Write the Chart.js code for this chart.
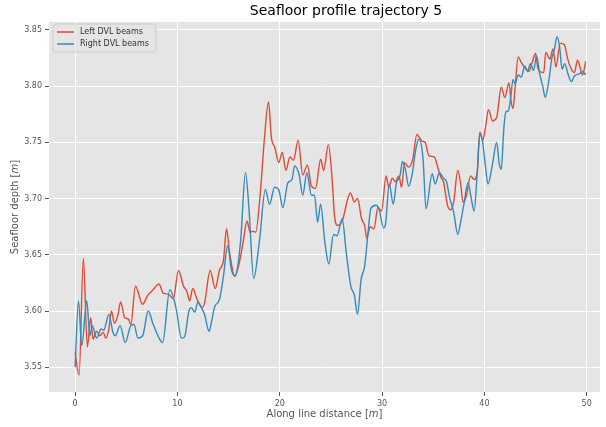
<!DOCTYPE html>
<html>
<head>
<meta charset="utf-8">
<script src="https://cdn.jsdelivr.net/npm/chart.js@4"></script>
<style>
  html, body { margin: 0; padding: 0; background: #fff; }
  #wrap { width: 606px; height: 427px; }
</style>
</head>
<body>
<div id="wrap"><canvas id="profileChart" width="606" height="427"></canvas></div>
<script>
// Left DVL beams (distance [m], depth [m])
const distLeft = [0, 0.39, 0.81, 1.2, 1.53, 1.75, 2.1, 2.4, 2.75, 3.0, 3.3, 3.55, 3.85, 4.2, 4.45, 4.85, 5.2, 5.45, 5.9, 6.6,
  7.1, 7.63, 8.2, 8.6, 9.1, 9.6, 10.1, 10.6, 10.9, 11.2, 11.5, 11.9, 12.4, 12.65, 13.2, 13.7, 14.1, 14.5, 14.8, 15.1,
  15.6, 16.1, 16.45, 16.8, 17.1, 17.4, 17.65, 18.1, 18.5, 18.9, 19.2, 19.5, 19.9, 20.25, 20.6, 21.0, 21.35, 21.8, 22.25, 22.7,
  23.1, 23.5, 24.0, 24.3, 24.75, 25.1, 25.35, 25.65, 26.1, 26.9, 27.3, 27.6, 28.0, 28.3, 28.5, 28.85, 29.2, 29.6, 29.95, 30.4,
  30.65, 31.0, 31.3, 31.65, 31.9, 32.2, 32.6, 33.0, 33.4, 33.9, 34.2, 34.6, 35.1, 35.5, 35.8, 36.0, 36.4, 36.7, 37.0, 37.4,
  37.7, 37.9, 38.2, 38.66, 39.0, 39.3, 39.55, 39.86, 40.1, 40.4, 40.8, 41.2, 41.65, 42.0, 42.4, 42.6, 42.8, 43.0, 43.3, 43.6,
  44.05, 44.35, 44.7, 45.0, 45.25, 45.8, 46.0, 46.4, 46.7, 47.0, 47.4, 47.8, 48.15, 48.5, 48.8, 49.1, 49.4, 49.6, 49.9];
const depthLeft = [3.563, 3.543, 3.647, 3.568, 3.594, 3.575, 3.582, 3.578, 3.581, 3.576, 3.584, 3.600, 3.589, 3.597, 3.608, 3.594, 3.593, 3.588, 3.622, 3.606,
  3.614, 3.619, 3.624, 3.616, 3.615, 3.611, 3.636, 3.622, 3.618, 3.609, 3.620, 3.611, 3.603, 3.607, 3.636, 3.620, 3.636, 3.645, 3.673, 3.652,
  3.631, 3.645, 3.663, 3.680, 3.670, 3.671, 3.670, 3.705, 3.753, 3.786, 3.753, 3.746, 3.732, 3.741, 3.725, 3.737, 3.734, 3.752, 3.721, 3.730,
  3.711, 3.709, 3.735, 3.725, 3.748, 3.720, 3.685, 3.676, 3.680, 3.705, 3.697, 3.700, 3.682, 3.676, 3.665, 3.675, 3.673, 3.692, 3.689, 3.720,
  3.710, 3.718, 3.715, 3.720, 3.710, 3.732, 3.728, 3.735, 3.757, 3.751, 3.750, 3.738, 3.737, 3.726, 3.718, 3.715, 3.694, 3.690, 3.697, 3.725,
  3.712, 3.697, 3.701, 3.720, 3.717, 3.723, 3.759, 3.752, 3.763, 3.779, 3.769, 3.772, 3.799, 3.790, 3.803, 3.787, 3.780, 3.798, 3.826, 3.821,
  3.815, 3.813, 3.822, 3.829, 3.815, 3.812, 3.830, 3.824, 3.833, 3.817, 3.838, 3.837, 3.824, 3.815, 3.812, 3.823, 3.815, 3.810, 3.822];

// Right DVL beams
const distRight = [0, 0.33, 0.65, 1.14, 1.45, 1.68, 2.1, 2.55, 2.8, 3.3, 3.7, 3.93, 4.4, 4.9, 5.45, 5.75, 6.15, 6.6, 7.15, 7.6,
  8.1, 8.55, 9.26, 9.7, 9.9, 10.4, 10.7, 11.1, 11.35, 11.7, 12.0, 12.4, 12.65, 13.1, 13.3, 13.65, 14.1, 14.5, 14.9, 15.3,
  15.65, 15.9, 16.2, 16.65, 17.0, 17.45, 18.0, 18.6, 19.0, 19.5, 19.9, 20.3, 20.8, 21.2, 21.45, 21.9, 22.25, 22.65, 23.1, 23.4,
  23.7, 24.0, 24.4, 24.8, 25.25, 25.6, 26.1, 26.5, 26.95, 27.3, 27.6, 27.95, 28.3, 28.6, 28.9, 29.4, 29.7, 30.15, 30.35, 30.7,
  31.1, 31.4, 31.75, 32.0, 32.3, 32.6, 32.95, 33.3, 33.6, 34.0, 34.3, 34.9, 35.2, 35.6, 36.0, 36.3, 36.6, 37.0, 37.4, 37.7,
  38.0, 38.4, 38.7, 39.0, 39.3, 39.55, 39.8, 40.1, 40.35, 40.8, 41.2, 41.45, 41.65, 41.9, 42.1, 42.35, 42.6, 42.8, 43.0, 43.3,
  43.6, 43.95, 44.2, 44.5, 44.8, 45.1, 45.4, 45.7, 45.95, 46.3, 46.6, 46.85, 47.1, 47.35, 47.6, 47.85, 48.2, 48.5, 48.8, 49.3,
  49.6, 49.9];
const depthRight = [3.550, 3.609, 3.569, 3.609, 3.578, 3.587, 3.576, 3.584, 3.583, 3.597, 3.581, 3.578, 3.587, 3.572, 3.587, 3.588, 3.576, 3.578, 3.600, 3.589,
  3.578, 3.572, 3.619, 3.609, 3.601, 3.576, 3.577, 3.599, 3.603, 3.599, 3.608, 3.602, 3.597, 3.582, 3.589, 3.604, 3.610, 3.631, 3.658, 3.636,
  3.631, 3.640, 3.665, 3.723, 3.690, 3.629, 3.661, 3.708, 3.695, 3.710, 3.708, 3.692, 3.714, 3.717, 3.729, 3.721, 3.703, 3.723, 3.703, 3.703,
  3.679, 3.695, 3.662, 3.642, 3.668, 3.667, 3.682, 3.652, 3.622, 3.614, 3.597, 3.628, 3.640, 3.667, 3.691, 3.694, 3.691, 3.674, 3.678, 3.713,
  3.695, 3.714, 3.720, 3.733, 3.725, 3.711, 3.722, 3.744, 3.753, 3.736, 3.691, 3.722, 3.713, 3.723, 3.718, 3.715, 3.701, 3.688, 3.668, 3.680,
  3.695, 3.714, 3.701, 3.689, 3.723, 3.757, 3.752, 3.729, 3.713, 3.731, 3.750, 3.731, 3.726, 3.762, 3.777, 3.778, 3.792, 3.806, 3.802, 3.810,
  3.808, 3.818, 3.813, 3.820, 3.814, 3.827, 3.811, 3.800, 3.790, 3.805, 3.825, 3.833, 3.844, 3.835, 3.815, 3.820, 3.810, 3.804, 3.809, 3.811,
  3.813, 3.810];

const xTicks = [0, 10, 20, 30, 40, 50];
const yTicks = [3.55, 3.60, 3.65, 3.70, 3.75, 3.80, 3.85];
const chartTitle = 'Seafloor profile trajectory 5';

const toPoints = (xs, ys) => xs.map((x, i) => ({ x: x, y: ys[i] }));

// grey panel behind the plot (ggplot look)
const panelBg = {
    id: 'panelBg',
    beforeDraw(chart) {
        const { ctx, chartArea: a } = chart;
        ctx.save();
        ctx.fillStyle = '#E5E5E5';
        ctx.fillRect(a.left, a.top, a.right - a.left, a.bottom - a.top);
        ctx.restore();
    }
};

// draw text pieces, some italic, centred on (x, y)
function drawParts(ctx, parts, x, y, size) {
    const fontOf = it => (it ? 'italic ' : '') + size + 'px "DejaVu Sans"';
    let total = 0;
    parts.forEach(p => { ctx.font = fontOf(p[1]); total += ctx.measureText(p[0]).width; });
    let cx = x - total / 2;
    parts.forEach(p => {
        ctx.font = fontOf(p[1]);
        ctx.fillText(p[0], cx, y);
        cx += ctx.measureText(p[0]).width;
    });
}

// title + axis labels with italic unit
const axisTitles = {
    id: 'axisTitles',
    afterDraw(chart) {
        const { ctx, chartArea: a } = chart;
        ctx.save();
        ctx.textBaseline = 'middle';
        ctx.textAlign = 'left';
        ctx.fillStyle = '#000000';
        drawParts(ctx, [[chartTitle, false]], 346, 11, 14);
        ctx.fillStyle = '#555555';
        drawParts(ctx, [['Along line distance [', false], ['m', true], [']', false]], (a.left + a.right) / 2, 414, 10);
        ctx.translate(15, (a.top + a.bottom) / 2);
        ctx.rotate(-Math.PI / 2);
        drawParts(ctx, [['Seafloor depth [', false], ['m', true], [']', false]], 0, 0, 10);
        ctx.restore();
    }
};

// legend box in upper left corner of the panel
const boxLegend = {
    id: 'boxLegend',
    afterDatasetsDraw(chart) {
        const { ctx, chartArea: a } = chart;
        const x = a.left + 4, y = a.top + 2, w = 103, h = 28;
        ctx.save();
        ctx.beginPath();
        ctx.roundRect(x, y, w, h, 3);
        ctx.fillStyle = 'rgba(229,229,229,0.8)';
        ctx.fill();
        ctx.strokeStyle = '#CCCCCC';
        ctx.lineWidth = 1;
        ctx.stroke();
        ctx.font = '8px "DejaVu Sans"';
        ctx.textBaseline = 'middle';
        chart.data.datasets.forEach((ds, i) => {
            const ly = y + 8 + i * 12;
            ctx.strokeStyle = ds.borderColor;
            ctx.lineWidth = 1.5;
            ctx.beginPath();
            ctx.moveTo(x + 4, ly);
            ctx.lineTo(x + 21, ly);
            ctx.stroke();
            ctx.fillStyle = '#333333';
            ctx.fillText(ds.label, x + 27, ly);
        });
        ctx.restore();
    }
};

new Chart(document.getElementById('profileChart').getContext('2d'), {
    type: 'line',
    data: {
        datasets: [{
            label: 'Left DVL beams',
            data: toPoints(distLeft, depthLeft),
            borderColor: '#E24A33',
            borderWidth: 1.4,
            pointRadius: 0,
            cubicInterpolationMode: 'monotone',
            order: 2
        }, {
            label: 'Right DVL beams',
            data: toPoints(distRight, depthRight),
            borderColor: '#348ABD',
            borderWidth: 1.4,
            pointRadius: 0,
            cubicInterpolationMode: 'monotone',
            order: 1
        }]
    },
    options: {
        responsive: false,
        animation: false,
        devicePixelRatio: 1,
        layout: { padding: { left: 0, right: 6, top: 22, bottom: 0 } },
        plugins: {
            legend: { display: false },
            tooltip: { enabled: false },
            title: { display: false }
        },
        scales: {
            x: {
                type: 'linear',
                min: -2.55,
                max: 51.3,
                afterFit(s) { s.height = 35; },
                afterBuildTicks(s) { s.ticks = xTicks.map(v => ({ value: v })); },
                grid: { color: '#FFFFFF', lineWidth: 1, tickColor: '#555555', tickLength: 4, drawTicks: true },
                border: { display: false },
                ticks: { color: '#555555', font: { family: 'DejaVu Sans', size: 8 }, padding: 3, maxRotation: 0 }
            },
            y: {
                min: 3.528,
                max: 3.857,
                afterFit(s) { s.width = 49; },
                afterBuildTicks(s) { s.ticks = yTicks.map(v => ({ value: v })); },
                grid: { color: '#FFFFFF', lineWidth: 1, tickColor: '#555555', tickLength: 4, drawTicks: true },
                border: { display: false },
                ticks: {
                    color: '#555555',
                    font: { family: 'DejaVu Sans', size: 8 },
                    padding: 3,
                    callback: v => v.toFixed(2)
                }
            }
        }
    },
    plugins: [panelBg, axisTitles, boxLegend]
});
</script>
</body>
</html>
